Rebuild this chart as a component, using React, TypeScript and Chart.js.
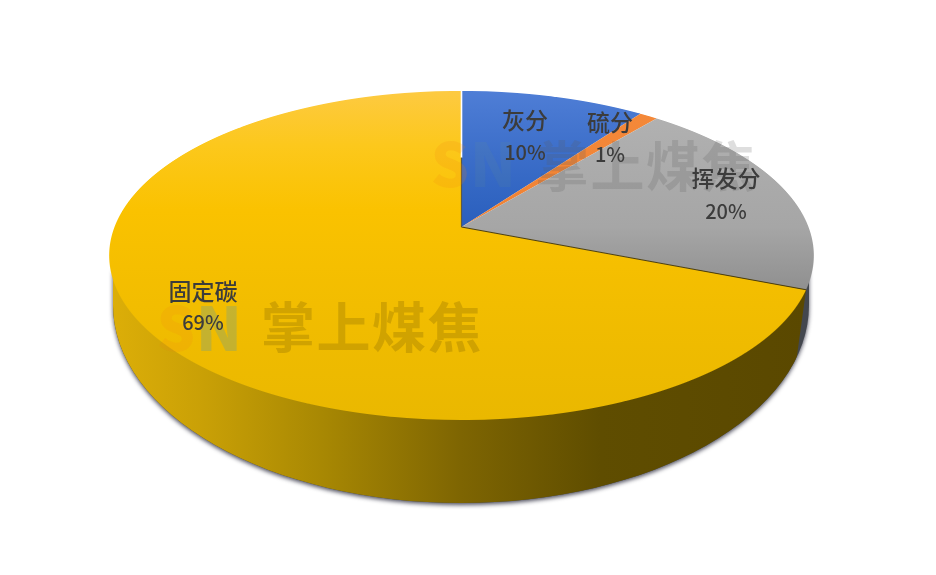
import React, { useEffect, useRef } from "react";
import { Chart, registerables } from "chart.js";

Chart.register(...registerables);

const categories = ["灰分", "硫分", "挥发分", "固定碳"];
const values = [10, 1, 20, 69];
const percentLabels = ["10%", "1%", "20%", "69%"];
const watermark = "掌上煤焦";

const WIDTH = 936;
const HEIGHT = 575;
const FONT = '"Noto Sans CJK SC", "Noto Sans", sans-serif';

// Perspective of the top face: apex pixel and projection constants
const APEX_X = 461.5;
const APEX_Y = 227;
const PA = 159.6;
const PC = -0.173;
const PD = 347;

const project = (u: number, v: number) => {
  const w = 1 + PC * v;
  return { x: APEX_X + (PD * u) / w, y: APEX_Y + (PA * v) / w };
};

const labelSpots = [
  { x: 525, y1: 120, y2: 152 },
  { x: 610, y1: 122, y2: 154 },
  { x: 726, y1: 178, y2: 211 },
  { x: 203, y1: 291, y2: 322 },
];

const wallPlugin = (wallStops: [number, string][]) => ({
  id: "pie3d",
  beforeDatasetsDraw(chart: any) {
    const ctx: CanvasRenderingContext2D = chart.ctx;
    const arcs = chart.getDatasetMeta(0).data;
    const big = arcs[arcs.length - 1];
    const R = big.outerRadius;
    const cx = big.x;
    const cy = big.y;
    const dpr = chart.currentDevicePixelRatio || 1;

    // ---- side wall ----
    const BX = 461, BY = 305, BRX = 348, BRY = 198;
    const wallPath = () => {
      ctx.beginPath();
      ctx.moveTo(BX + BRX, 270);
      ctx.lineTo(BX + BRX, BY);
      ctx.ellipse(BX, BY, BRX, BRY, 0, 0, Math.PI);
      ctx.lineTo(BX - BRX, 270);
      ctx.closePath();
    };
    ctx.save();
    ctx.shadowColor = "rgba(20,20,40,0.75)";
    ctx.shadowBlur = 4;
    ctx.shadowOffsetY = 2;
    ctx.fillStyle = "#43474e";
    wallPath();
    ctx.fill();
    ctx.restore();

    // yellow wall stops where the yellow slice's rim starts on the right
    const a = big.startAngle + Math.PI / 2;
    const corner = project(Math.sin(a), -Math.cos(a));
    const g = ctx.createLinearGradient(BX - BRX, 0, BX + BRX, 0);
    wallStops.forEach(([o, c]) => g.addColorStop(o, c));
    ctx.save();
    ctx.beginPath();
    ctx.moveTo(0, 0);
    ctx.lineTo(corner.x, 0);
    ctx.lineTo(corner.x, corner.y);
    ctx.lineTo(corner.x - 11, corner.y + 80);
    ctx.lineTo(corner.x - 11, HEIGHT);
    ctx.lineTo(0, HEIGHT);
    ctx.closePath();
    ctx.clip();
    ctx.fillStyle = g;
    wallPath();
    ctx.fill();
    ctx.restore();

    // ---- top face: the chart's own arcs, drawn row by row under the perspective ----
    const topRow = Math.floor(APEX_Y - PA / (1 - PC) - 2);
    const botRow = Math.ceil(APEX_Y + PA / (1 + PC) + 2);
    for (let row = topRow * dpr; row < botRow * dpr; row++) {
      const Y = (row + 0.5) / dpr;
      const dy = Y - APEX_Y;
      const v = dy / (PA - PC * dy);
      const w = 1 + PC * v;
      const kx = PD / w / R;
      const ky = PA / (w * w) / R;
      const sy = cy + R * v;
      ctx.save();
      ctx.setTransform(1, 0, 0, 1, 0, 0);
      ctx.beginPath();
      ctx.rect(0, row, WIDTH * dpr, 1);
      ctx.clip();
      ctx.setTransform(kx * dpr, 0, 0, ky * dpr, dpr * (APEX_X - kx * cx), dpr * (Y - ky * sy));
      arcs.forEach((arc: any) => arc.draw(ctx));
      ctx.restore();
    }

    // thin lines along two slice edges
    const apex = project(0, 0);
    const top = project(0, -1);
    const midEdge = project(0, -0.47);
    ctx.save();
    ctx.lineWidth = 1.6;
    ctx.strokeStyle = "#ffffff";
    ctx.beginPath();
    ctx.moveTo(top.x, top.y);
    ctx.lineTo(midEdge.x, midEdge.y);
    ctx.stroke();
    ctx.lineWidth = 1.2;
    ctx.strokeStyle = "#5c5a48";
    ctx.beginPath();
    ctx.moveTo(midEdge.x, midEdge.y);
    ctx.lineTo(apex.x, apex.y);
    ctx.stroke();
    ctx.strokeStyle = "#4c3f10";
    ctx.lineWidth = 1.1;
    ctx.beginPath();
    ctx.moveTo(apex.x, apex.y);
    ctx.lineTo(corner.x, corner.y);
    ctx.stroke();
    ctx.restore();

    return false;
  },
  afterDraw(chart: any) {
    const ctx: CanvasRenderingContext2D = chart.ctx;
    ctx.save();
    ctx.textAlign = "center";
    ctx.textBaseline = "middle";

    // watermarks
    const drawMark = (
      logoX: number,
      logoY: number,
      textX: number,
      textY: number,
      textColor: string,
      sAlpha: number,
      nAlpha: number,
    ) => {
      ctx.font = `900 60px ${FONT}`;
      ctx.textAlign = "center";
      ctx.fillStyle = `rgba(240,130,20,${sAlpha})`;
      ctx.fillText("S", logoX, logoY);
      ctx.fillStyle = `rgba(120,160,130,${nAlpha})`;
      ctx.fillText("N", logoX + 43, logoY);
      ctx.font = `700 54px ${FONT}`;
      ctx.fillStyle = textColor;
      (ctx as any).letterSpacing = "1.5px";
      ctx.textAlign = "left";
      ctx.fillText(watermark, textX, textY);
      (ctx as any).letterSpacing = "0px";
      ctx.textAlign = "center";
    };
    drawMark(176, 328, 261, 327, "rgba(110,85,0,0.24)", 0.14, 0.36);
    drawMark(450, 164, 535, 166, "rgba(90,90,90,0.2)", 0.16, 0.1);

    // slice labels
    ctx.fillStyle = "#3c3c3c";
    categories.forEach((name, i) => {
      const s = labelSpots[i];
      ctx.font = `500 23px ${FONT}`;
      ctx.fillText(name, s.x, s.y1);
      ctx.font = `500 20px ${FONT}`;
      ctx.fillText(percentLabels[i], s.x, s.y2);
    });
    ctx.restore();
  },
});

export default function App() {
  const ref = useRef<HTMLCanvasElement | null>(null);
  useEffect(() => {
    const canvas = ref.current!;
    const ctx = canvas.getContext("2d")!;
    const vert = (stops: [number, string][]) => {
      const g = ctx.createLinearGradient(0, 0, 0, HEIGHT);
      stops.forEach(([o, c]) => g.addColorStop(o, c));
      return g;
    };
    const colors = [
      vert([[0, "#4f7ed6"], [0.5, "#2a5fbd"], [1, "#2a5fbd"]]),
      vert([[0, "#f58a3a"], [1, "#ea7a2e"]]),
      vert([[0, "#b4b4b4"], [0.5, "#a6a6a6"], [0.7, "#8e8e8e"], [1, "#8e8e8e"]]),
      vert([[0, "#fdca42"], [0.22, "#fcc81c"], [0.45, "#fac200"], [1, "#eab800"]]),
    ];
    const wallStops: [number, string][] = [
      [0, "#dcae08"],
      [0.13, "#c9a006"],
      [0.3, "#a88803"],
      [0.5, "#7e6502"],
      [0.7, "#5f4d00"],
      [1, "#5a4800"],
    ];
    const chart = new Chart(canvas, {
      type: "pie",
      data: {
        labels: categories,
        datasets: [{ data: values, backgroundColor: colors, borderWidth: 0 }],
      },
      options: {
        animation: false,
        responsive: false,
        layout: { padding: 0 },
        plugins: { legend: { display: false }, tooltip: { enabled: false } },
      },
      plugins: [wallPlugin(wallStops)],
    } as any);
    return () => chart.destroy();
  }, []);
  return (
    <div style={{ position: "fixed", left: 0, top: 0, width: WIDTH, height: HEIGHT, background: "#fff" }}>
      <canvas ref={ref} width={WIDTH} height={HEIGHT} style={{ display: "block" }} />
    </div>
  );
}
